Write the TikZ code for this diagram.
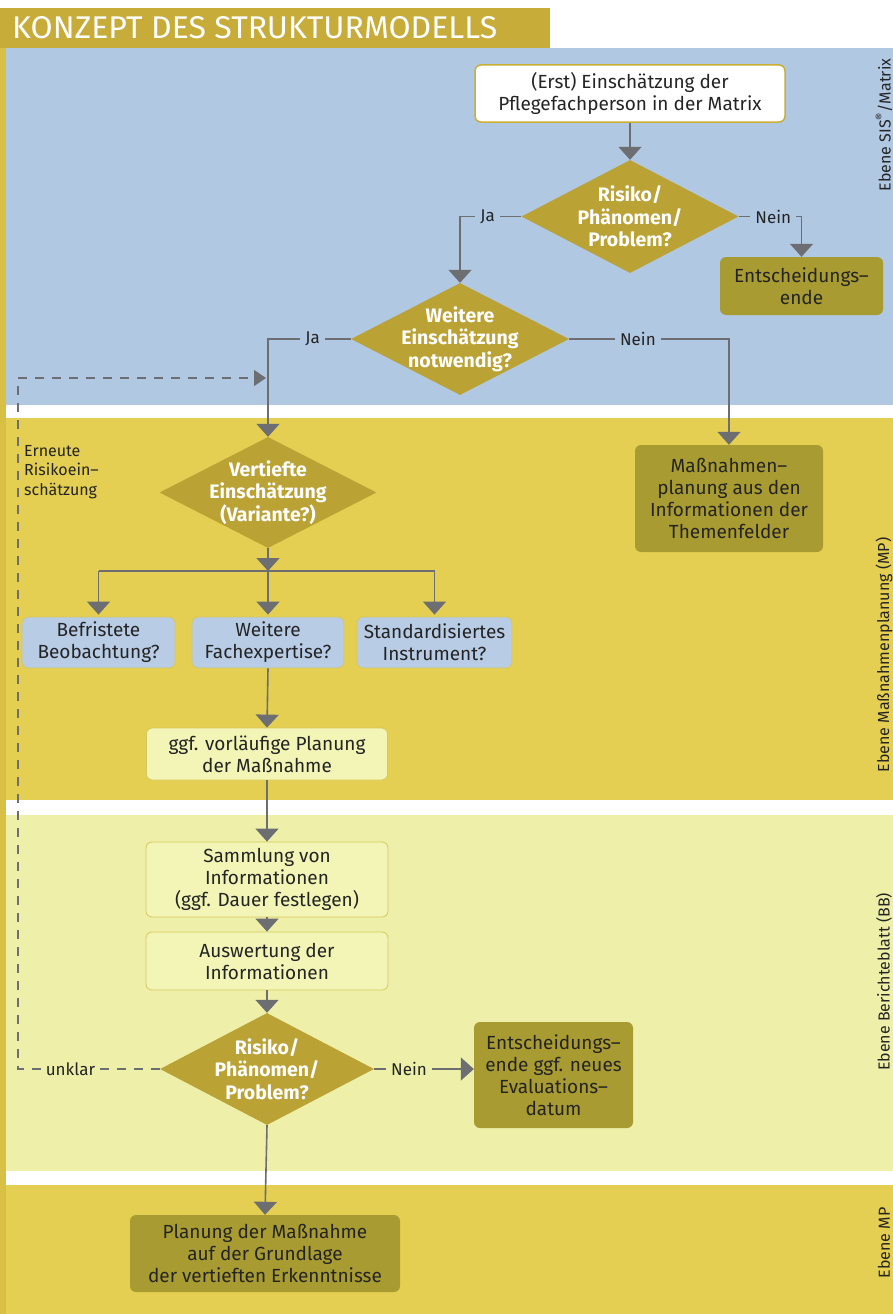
\documentclass[tikz,border=0pt]{standalone}
\usepackage{fontspec}
\setmainfont{Fira Sans}
\usepackage{graphicx}
\usetikzlibrary{shapes.geometric,arrows.meta}
\definecolor{bandblue}{HTML}{B1C8E3}
\definecolor{bandgold}{HTML}{E4CF52}
\definecolor{bandlight}{HTML}{EEF0AA}
\definecolor{headgold}{HTML}{C8AC3A}
\definecolor{stripgold}{HTML}{D8BF45}
\definecolor{diagold}{HTML}{BBA235}
\definecolor{darkfill}{HTML}{A89B32}
\definecolor{boxblue}{HTML}{B8CCE5}
\definecolor{boxlight}{HTML}{F2F5B5}
\definecolor{boxborder}{HTML}{D6C85A}
\definecolor{erstborder}{HTML}{C9B035}
\definecolor{linegray}{HTML}{6C6E72}
\definecolor{txt}{HTML}{242424}
\begin{document}
\begin{tikzpicture}[x=1pt,y=-1pt,
  every node/.style={text=txt},
  box/.style={rectangle, rounded corners=6pt, align=center, inner sep=2pt,
    font=\fontsize{19}{22}\selectfont},
  erstbox/.style={box, fill=white, draw=erstborder, line width=1.5pt},
  darkbox/.style={box, fill=darkfill},
  bluebox/.style={box, fill=boxblue, draw=boxborder, line width=0.8pt},
  lightbox/.style={box, fill=boxlight, draw=boxborder, line width=0.8pt},
  dia/.style={diamond, fill=diagold, inner sep=0pt, aspect=2},
  diatext/.style={font=\bfseries\fontsize{19.5}{22.5}\selectfont, text=white, align=center},
  conn/.style={draw=linegray, line width=1.6pt},
  arr/.style={conn, -{Triangle[width=23pt,length=13pt]}},
  dashline/.style={draw=linegray, line width=1.4pt, dash pattern=on 9pt off 8pt},
  dasharr/.style={dashline, -{Triangle[width=16pt,length=12pt]}},
  lbl/.style={font=\fontsize{17}{19}\selectfont, inner xsep=5pt, inner ysep=1pt},
  sidelbl/.style={rotate=90, font=\fontsize{16}{18}\selectfont}
]
\useasboundingbox (0,0) rectangle (893,1314);
% background bands
\fill[white] (0,0) rectangle (893,1314);
\fill[headgold] (0,8) rectangle (550,48);
\fill[stripgold] (0,48) rectangle (6,1314);
\fill[bandblue] (6,48) rectangle (893,405);
\fill[bandgold] (6,418) rectangle (893,800);
\fill[bandlight] (6,815) rectangle (893,1171);
\fill[bandgold] (6,1185) rectangle (893,1314);
\node[anchor=base west, inner sep=0pt, text=white] (title) at (12,38)
  {\resizebox{485pt}{22pt}{\fontsize{30}{30}\selectfont KONZEPT DES STRUKTURMODELLS}};
% side labels
\node[sidelbl] (s1) at (884,125) {Ebene SIS\textsuperscript{®}/Matrix};
\node[sidelbl] (s2) at (884,655) {Ebene Maßnahmenplanung (MP)};
\node[sidelbl] (s3) at (884,982) {Ebene Berichteblatt (BB)};
\node[sidelbl] (s4) at (884,1243) {Ebene MP};
% nodes
\node[erstbox, minimum width=310pt, minimum height=57pt] (erst) at (630,93.5)
  {(Erst) Einschätzung der\\Pflegefachperson in der Matrix};
\node[dia, minimum width=217pt, minimum height=113pt,
  label={[diatext]center:{Risiko/\\Phänomen/\\Problem?}}] (d1) at (630,216.5) {};
\node[darkbox, minimum width=163pt, minimum height=58pt] (ende1) at (801.5,286)
  {Entscheidungs–\\ende};
\node[dia, minimum width=218pt, minimum height=112pt,
  label={[diatext]center:{Weitere\\Einschätzung\\notwendig?}}] (d2) at (460,339) {};
\node[darkbox, minimum width=188pt, minimum height=107pt] (mass) at (729,498.5)
  {Maßnahmen–\\planung aus den\\Informationen der\\Themenfelder};
\node[dia, minimum width=217pt, minimum height=111pt,
  label={[diatext]center:{Vertiefte\\Einschätzung\\(Variante?)}}] (d3) at (268,492.5) {};
\node[bluebox, minimum width=153pt, minimum height=51pt] (b1) at (98.5,642.5)
  {Befristete\\Beobachtung?};
\node[bluebox, minimum width=152pt, minimum height=51pt] (b2) at (268,642.5)
  {Weitere\\Fachexpertise?};
\node[bluebox, minimum width=155pt, minimum height=51pt] (b3) at (434.5,642.5)
  {Standardisiertes\\Instrument?};
\node[lightbox, minimum width=241pt, minimum height=52pt] (ggf) at (267,754)
  {ggf. vorläufige Planung\\der Maßnahme};
\node[lightbox, minimum width=242pt, minimum height=75pt] (samm) at (267,879.5)
  {Sammlung von\\Informationen\\(ggf. Dauer festlegen)};
\node[lightbox, minimum width=242pt, minimum height=58pt] (ausw) at (267,961)
  {Auswertung der\\Informationen};
\node[dia, minimum width=214pt, minimum height=112pt,
  label={[diatext]center:{Risiko/\\Phänomen/\\Problem?}}] (d4) at (267,1069) {};
\node[darkbox, minimum width=159pt, minimum height=106pt] (ende2) at (553.5,1075)
  {Entscheidungs–\\ende ggf. neues\\Evaluations–\\datum};
\node[darkbox, minimum width=270pt, minimum height=77pt] (plan) at (265,1253.5)
  {Planung der Maßnahme\\auf der Grundlage\\der vertieften Erkenntnisse};
\node[anchor=north west, align=left, inner sep=0pt,
  font=\fontsize{16}{19.5}\selectfont] (erneut) at (24,445)
  {Erneute\\Risikoein–\\schätzung};
% coordinates
\coordinate (br) at (268,571);
\coordinate (fbend) at (266,378);
\coordinate (fbtop) at (18,378);
\coordinate (fbbot) at (18,1069);
% connectors
\draw[arr] (erst.south) -- (d1.north);
\draw[arr] (d1.west) -- node[lbl, fill=bandblue, pos=0.55]{Ja} (d1.west -| d2.north) -- (d2.north);
\draw[arr] (d1.east) -- node[lbl, fill=bandblue, pos=0.55]{Nein} (d1.east -| ende1.north) -- (ende1.north);
\draw[arr] (d2.west) -- node[lbl, fill=bandblue, pos=0.46]{Ja} (d2.west -| d3.north) -- (d3.north);
\draw[arr] (d2.east) -- node[lbl, fill=bandblue, pos=0.43]{Nein} (d2.east -| mass.north) -- (mass.north);
\draw[arr] (d3.south) -- (br);
\draw[conn] (br -| b1.north) -- (br -| b3.north);
\draw[arr] (br -| b1.north) -- ([yshift=2pt]b1.north);
\draw[arr] (br) -- ([yshift=2pt]b2.north);
\draw[arr] (br -| b3.north) -- ([yshift=2pt]b3.north);
\draw[arr] (b2.south) -- (ggf.north);
\draw[arr] (ggf.south) -- (samm.north);
\draw[arr] (samm.south) -- (ausw.north);
\draw[arr] (ausw.south) -- (d4.north);
\draw[arr] (d4.east) -- node[lbl, fill=bandlight, pos=0.35]{Nein} (d4.east -| ende2.west);
\draw[arr] (d4.south) -- (plan.north);
\draw[dasharr] (d4.west) -- node[lbl, fill=bandlight, pos=0.63]{unklar} (fbbot) -- (fbtop) -- (fbend);
\end{tikzpicture}
\end{document}
